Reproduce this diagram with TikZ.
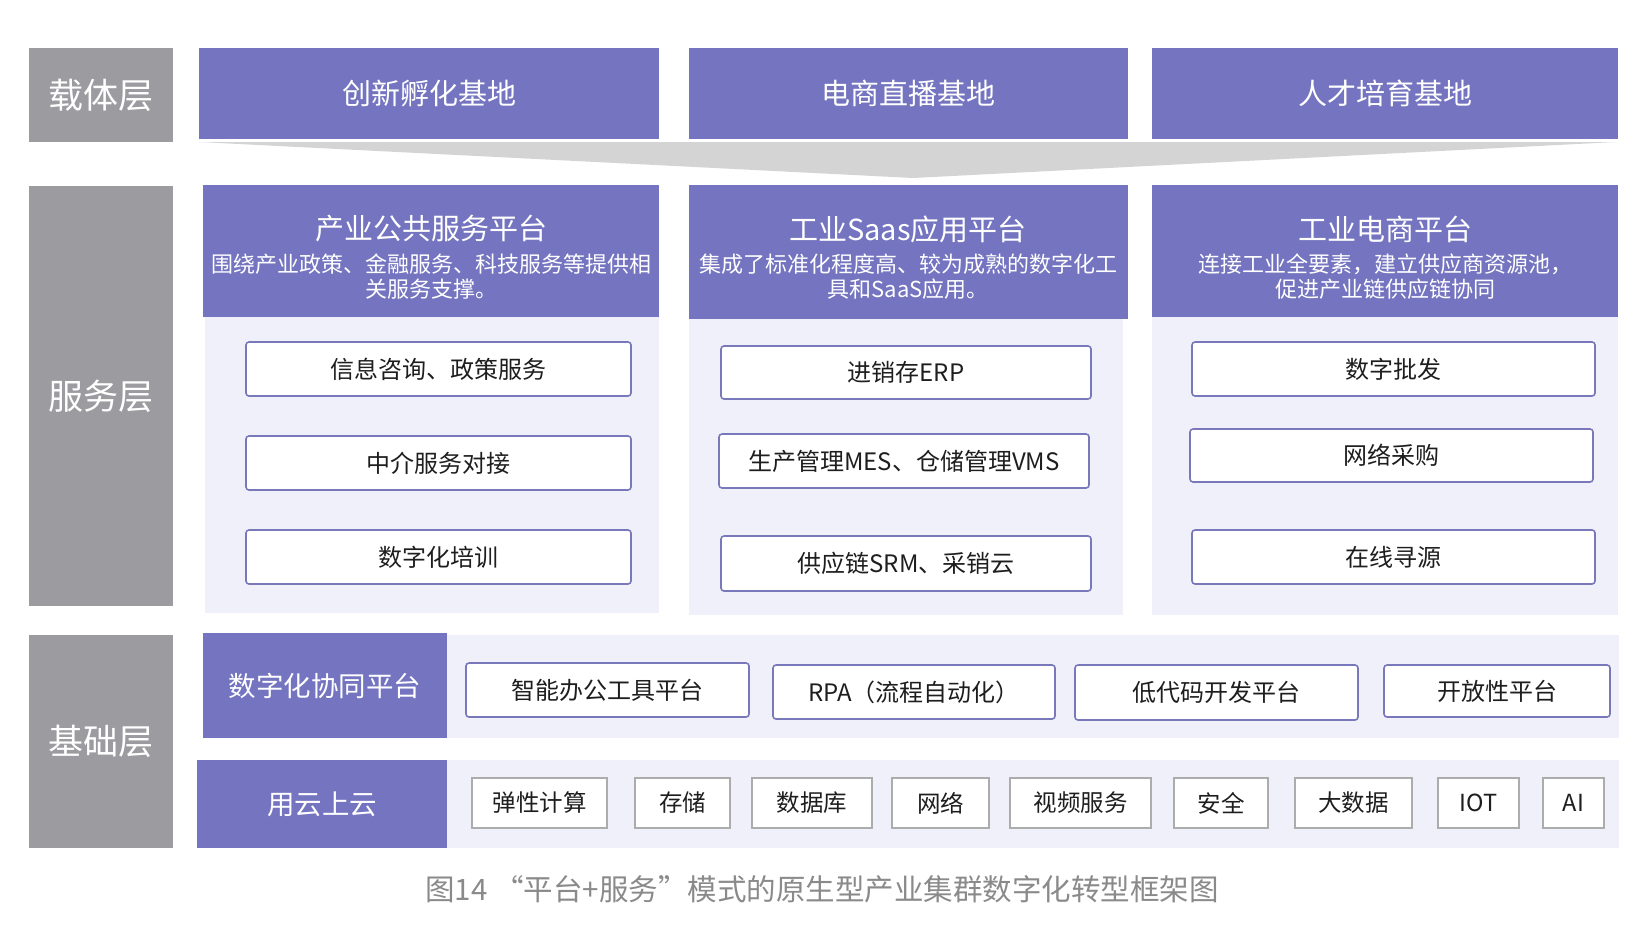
\documentclass[tikz,border=0pt]{standalone}
\usepackage{fontspec}
\setmainfont{Noto Sans CJK SC}
\definecolor{purp}{RGB}{116,116,192}
\definecolor{lgray}{RGB}{155,155,160}
\definecolor{funnelc}{RGB}{212,212,212}
\definecolor{bodyc}{RGB}{240,240,250}
\definecolor{bordc}{RGB}{120,120,186}
\definecolor{gbord}{RGB}{172,172,172}
\definecolor{capc}{RGB}{138,138,138}
\definecolor{txtc}{RGB}{30,30,30}
\newcommand\mkbox[7]{%
  \pgfmathsetmacro\mkW{#4-#2}\pgfmathsetmacro\mkH{#5-#3}%
  \pgfmathsetmacro\mkX{(#2+#4)/2}\pgfmathsetmacro\mkY{(#3+#5)/2}%
  \node[#6, minimum width=\mkW pt, minimum height=\mkH pt, inner sep=0pt] (#1) at (\mkX,\mkY) {#7};}
\tikzset{
  layer/.style={fill=lgray, text=white, font=\fontsize{35}{40}\selectfont},
  head/.style={fill=purp, text=white},
  basefont/.style={font=\fontsize{29}{34}\selectfont},
  rowfont/.style={font=\fontsize{27.5}{32}\selectfont},
  bodybg/.style={fill=bodyc},
  item/.style={draw=bordc, line width=1.6pt, rounded corners=3pt, fill=white, text=txtc, font=\fontsize{24}{28}\selectfont},
  cell/.style={draw=gbord, line width=1.3pt, fill=white, text=txtc, font=\fontsize{23.5}{28}\selectfont},
  htitle/.style={text=white, inner sep=0pt, font=\fontsize{29}{34}\selectfont},
  hsub/.style={text=white, inner sep=0pt, align=center, font=\fontsize{22}{25}\selectfont},
  captext/.style={text=capc, inner sep=0pt, font=\fontsize{29.5}{34}\selectfont}
}
\begin{document}
\begin{tikzpicture}[x=1pt,y=-1pt]
\useasboundingbox[fill=white] (0,0) rectangle (1648,924);
% layer labels
\mkbox{L1}{29}{48}{173}{142}{layer}{载体层}
\mkbox{L2}{29}{186}{173}{606}{layer}{服务层}
\mkbox{L3}{29}{635}{173}{848}{layer}{基础层}
% carrier bases
\mkbox{B1}{199}{48}{659}{139}{head,basefont}{创新孵化基地}
\mkbox{B2}{689}{48}{1128}{139}{head,basefont}{电商直播基地}
\mkbox{B3}{1152}{48}{1618}{139}{head,basefont}{人才培育基地}
% funnel
\fill[funnelc] (199,142) -- (1616,142) -- (913,178) -- cycle;
% service panels
\mkbox{P1}{205}{317}{659}{613}{bodybg}{}
\mkbox{P2}{689}{319}{1123}{615}{bodybg}{}
\mkbox{P3}{1152}{317}{1618}{615}{bodybg}{}
\mkbox{H1}{203}{185}{659}{317}{head}{}
\mkbox{H2}{689}{185}{1128}{319}{head}{}
\mkbox{H3}{1152}{185}{1618}{317}{head}{}
\node[htitle] (H1t) at (431,229) {产业公共服务平台};
\node[hsub] (H1s) at (431,277) {围绕产业政策、金融服务、科技服务等提供相\\关服务支撑。};
\node[htitle] (H2t) at (908,229) {工业Saas应用平台};
\node[hsub] (H2s) at (908,277) {集成了标准化程度高、较为成熟的数字化工\\具和SaaS应用。};
\node[htitle] (H3t) at (1385,229) {工业电商平台};
\node[hsub] (H3s) at (1385,277) {连接工业全要素，建立供应商资源池，\\促进产业链供应链协同};
% service items
\mkbox{I11}{246}{342}{631}{396}{item}{信息咨询、政策服务}
\mkbox{I12}{246}{436}{631}{490}{item}{中介服务对接}
\mkbox{I13}{246}{530}{631}{584}{item}{数字化培训}
\mkbox{I21}{721}{346}{1091}{399}{item}{进销存ERP}
\mkbox{I22}{719}{434}{1089}{488}{item}{生产管理MES、仓储管理VMS}
\mkbox{I23}{721}{536}{1091}{591}{item}{供应链SRM、采销云}
\mkbox{I31}{1192}{342}{1595}{396}{item}{数字批发}
\mkbox{I32}{1190}{429}{1593}{482}{item}{网络采购}
\mkbox{I33}{1192}{530}{1595}{584}{item}{在线寻源}
% base layer
\mkbox{R1b}{447}{635}{1619}{738}{bodybg}{}
\mkbox{R1h}{203}{633}{447}{738}{head,rowfont}{数字化协同平台}
\mkbox{R2b}{447}{760}{1619}{848}{bodybg}{}
\mkbox{R2h}{197}{760}{447}{848}{head,rowfont}{用云上云}
\mkbox{D1}{466}{663}{749}{717}{item}{智能办公工具平台}
\mkbox{D2}{773}{665}{1055}{719}{item}{RPA（流程自动化）}
\mkbox{D3}{1075}{665}{1358}{720}{item}{低代码开发平台}
\mkbox{D4}{1384}{665}{1610}{717}{item}{开放性平台}
\mkbox{C1}{472}{778}{607}{828}{cell}{弹性计算}
\mkbox{C2}{635}{778}{730}{828}{cell}{存储}
\mkbox{C3}{752}{778}{872}{828}{cell}{数据库}
\mkbox{C4}{892}{778}{989}{828}{cell}{网络}
\mkbox{C5}{1010}{778}{1151}{828}{cell}{视频服务}
\mkbox{C6}{1174}{778}{1268}{828}{cell}{安全}
\mkbox{C7}{1295}{778}{1412}{828}{cell}{大数据}
\mkbox{C8}{1438}{778}{1519}{828}{cell}{IOT}
\mkbox{C9}{1543}{778}{1604}{828}{cell}{AI}
% caption
\node[captext] (cap) at (822,889) {图14 “平台+服务”模式的原生型产业集群数字化转型框架图};
\end{tikzpicture}
\end{document}
